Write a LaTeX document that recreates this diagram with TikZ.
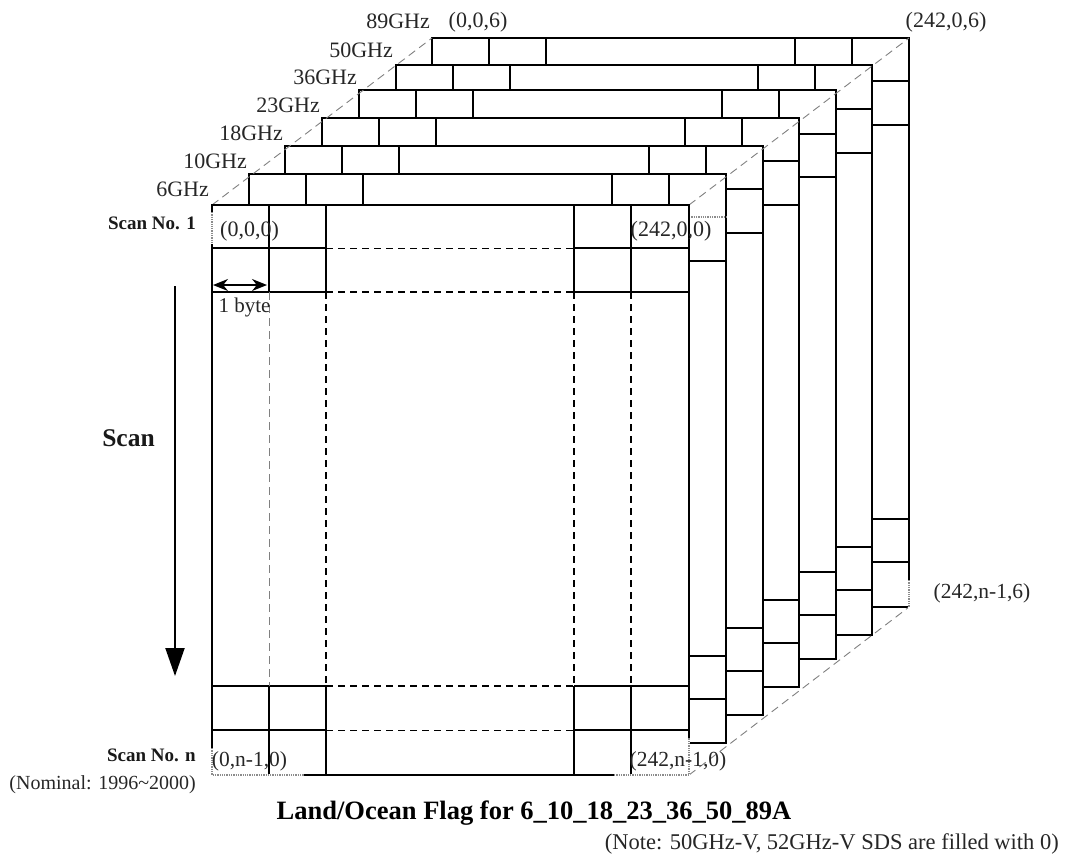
\documentclass[tikz,border=0pt]{standalone}
\usepackage{fontspec}
\setmainfont{Liberation Serif}
\usetikzlibrary{arrows.meta}
\tikzset{
  x=1pt,y=-1pt,
  solidline/.style={line width=1.3pt,black},
  heavyline/.style={line width=1.7pt,black},
  thindash/.style={line width=0.9pt,black,dash pattern=on 7pt off 5pt},
  heavydash/.style={line width=1.3pt,black,dash pattern=on 7pt off 5pt},
  greydash/.style={line width=0.9pt,black!50,dash pattern=on 8pt off 5pt},
  maskline/.style={line width=1.3pt,black!45,densely dotted},
  lab/.style={inner sep=0pt,text=black!85,font=\fontsize{22}{24}\selectfont},
  smalllab/.style={inner sep=0pt,text=black!85,font=\fontsize{20}{22}\selectfont},
  scanlab/.style={inner sep=0pt,text=black!90,font=\fontsize{19}{21}\selectfont\bfseries},
}
\begin{document}
\begin{tikzpicture}
\useasboundingbox (0,0) rectangle (1067,859);
% layers: front-most to back-most: left, right, top, lower top, b1,b2,b3, t1,t2
\foreach \l/\r/\t/\u/\pa/\pb/\pc/\qa/\qb/\pr in {
  249/726/174/205/656/699/743/217/261/689,
  285/763/146/174/628/671/715/189/233/726,
  322/799/118/146/600/643/687/161/205/763,
  359/836/90/118/572/615/659/134/177/799,
  396/872/65/90/547/590/635/109/153/836,
  432/909/38/65/519/562/607/81/125/872}{
  % top strip
  \draw[solidline] (\l,\u) -- (\l,\t) -- (\r,\t) -- (\r,\pc) -- (\pr,\pc);
  \draw[solidline] (\l+57,\t) -- (\l+57,\u) (\l+114,\t) -- (\l+114,\u)
                   (\r-114,\t) -- (\r-114,\u) (\r-57,\t) -- (\r-57,\u);
  \draw[solidline] (\pr,\u) -- (\l,\u);
  % side strip
  \draw[solidline] (\pr,\pa) -- (\r,\pa) (\pr,\pb) -- (\r,\pb);
  \draw[solidline] (\pr,\qb) -- (\r,\qb);
  \ifnum\qa=217 \draw[maskline] (\pr,\qa) -- (\r,\qa);
  \else \draw[solidline] (\pr,\qa) -- (\r,\qa); \fi
}
% depth edges
\coordinate (ftl) at (212,205); \coordinate (btl) at (432,38);
\coordinate (ftr) at (689,205); \coordinate (btr) at (909,38);
\coordinate (fbr) at (689,775); \coordinate (bbr) at (909,607);
\draw[greydash] (ftl) -- (btl);
\draw[greydash] (ftr) -- (btr);
\draw[greydash] (fbr) -- (bbr);
% front face
\draw[heavyline,fill=white] (212,205) rectangle (689,775);
\draw[solidline] (212,248) -- (326,248) (574,248) -- (689,248);
\draw[heavyline] (212,292) -- (326,292) (574,292) -- (689,292);
\draw[solidline] (212,686) -- (326,686) (574,686) -- (689,686);
\draw[solidline] (212,730) -- (326,730) (574,730) -- (689,730);
\draw[solidline] (269,205) -- (269,292) (269,686) -- (269,775);
\draw[heavyline] (326,205) -- (326,292) (326,686) -- (326,775);
\draw[heavyline] (574,205) -- (574,292) (574,686) -- (574,775);
\draw[solidline] (631,205) -- (631,292) (631,686) -- (631,775);
\draw[thindash] (326,248) -- (574,248) (326,730) -- (574,730);
\draw[heavydash] (326,292) -- (574,292) (326,686) -- (574,686);
\draw[greydash] (269,292) -- (269,686);
\draw[heavydash] (326,292) -- (326,686) (574,292) -- (574,686) (631,292) -- (631,686);
% grey-masked portions under labels
\draw[white,line width=2pt] (212,212) -- (212,244) (212,748) -- (212,776) (212,775) -- (304,775) (614,775) -- (690,775) (689,738) -- (689,776) (909,580) -- (909,608);
\draw[maskline] (212,212) -- (212,244) (212,748) -- (212,775) -- (304,775) (614,775) -- (689,775) -- (689,738) (909,580) -- (909,607);
% arrows
\coordinate (sa) at (175,286); \coordinate (sb) at (175,676);
\draw[line width=2pt,-{Triangle[width=19pt,length=28pt]}] (sa) -- (sb);
\coordinate (ba) at (213,285); \coordinate (bb) at (267,285);
\draw[line width=1.6pt,{Stealth[width=12pt,length=15pt]}-{Stealth[width=12pt,length=15pt]}] (ba) -- (bb);
% labels
\node[lab,anchor=east] (g89) at (430,21) {89GHz};
\node[lab,anchor=east] (g50) at (393,50) {50GHz};
\node[lab,anchor=east] (g36) at (357,77) {36GHz};
\node[lab,anchor=east] (g23) at (320,105) {23GHz};
\node[lab,anchor=east] (g18) at (283,133) {18GHz};
\node[lab,anchor=east] (g10) at (247,161) {10GHz};
\node[lab,anchor=east] (g6) at (209,189) {6GHz};
\node[lab,anchor=center] (c006) at (478,22) {(0,0,6)};
\node[lab,anchor=center] (c2006) at (946,22) {(242,0,6)};
\node[lab,anchor=center] (c000) at (249.5,231) {(0,0,0)};
\node[lab,anchor=center] (c2000) at (671,231) {(242,0,0)};
\node[smalllab,font=\fontsize{21.5}{24}\selectfont,anchor=center] (c0n0) at (249.5,761) {(0,n-1,0)};
\node[smalllab,font=\fontsize{21.5}{24}\selectfont,anchor=center] (c2n0) at (678,761) {(242,n-1,0)};
\node[smalllab,font=\fontsize{21.5}{24}\selectfont,anchor=center] (c2n6) at (982,593) {(242,n-1,6)};
\node[scanlab,anchor=east] (s1) at (196,223) {Scan No. 1};
\node[scanlab,anchor=east] (sn) at (196,755) {Scan No. n};
\node[smalllab,anchor=east] (nom) at (196,785) {(Nominal: 1996\textasciitilde 2000)};
\node[smalllab,font=\fontsize{21}{23}\selectfont,anchor=center] (byte) at (244.5,307.5) {1 byte};
\node[inner sep=0pt,text=black!90,font=\fontsize{25.5}{28}\selectfont\bfseries,anchor=center] (scan) at (128.5,438) {Scan};
\node[inner sep=0pt,font=\fontsize{26.5}{29}\selectfont\bfseries,anchor=center] (title) at (534,813) {Land/Ocean Flag for 6\_10\_18\_23\_36\_50\_89A};
\node[smalllab,font=\fontsize{22.5}{25}\selectfont,anchor=east] (note) at (1059,844) {(Note: 50GHz-V, 52GHz-V SDS are filled with 0)};
\end{tikzpicture}
\end{document}
